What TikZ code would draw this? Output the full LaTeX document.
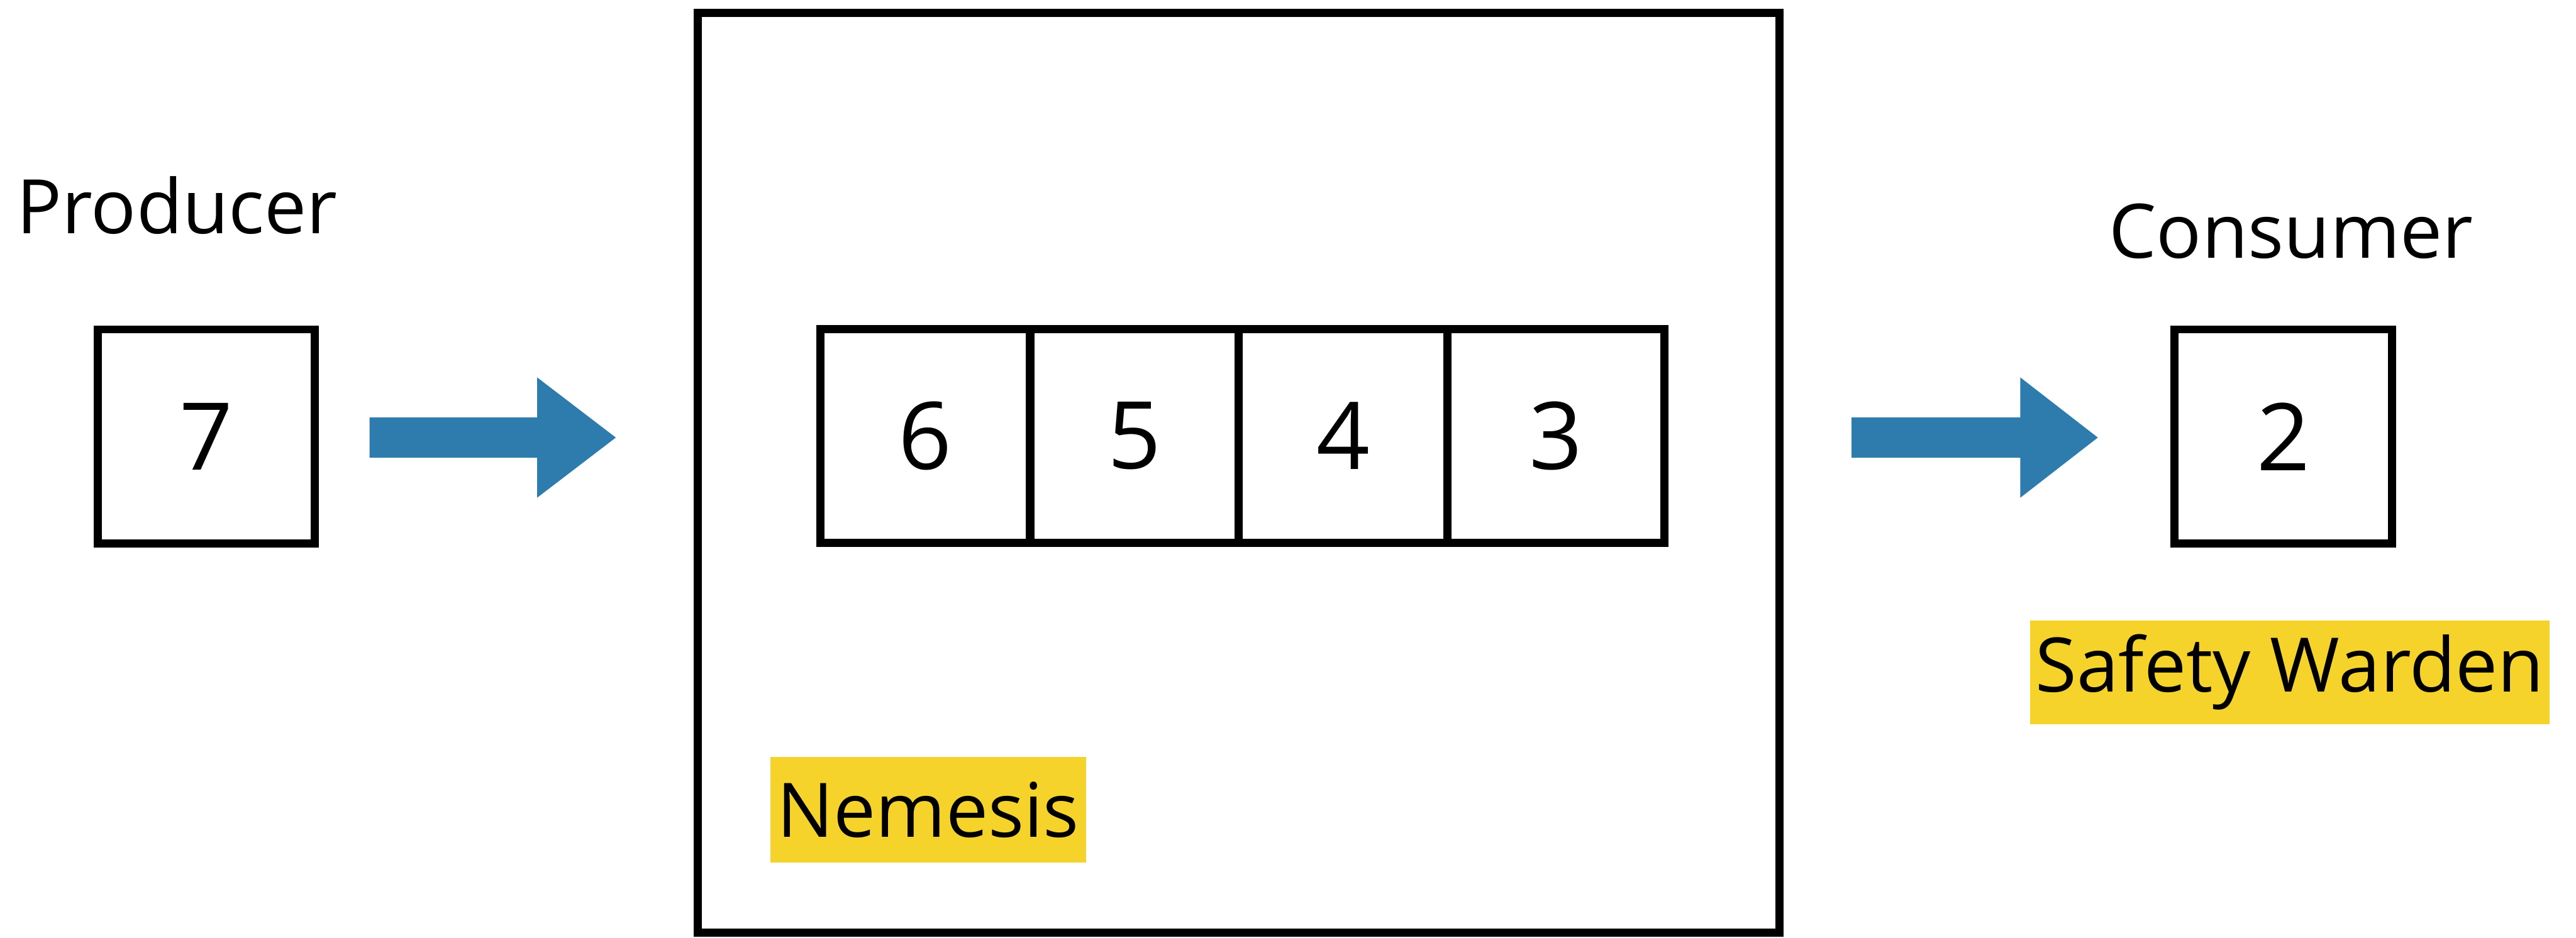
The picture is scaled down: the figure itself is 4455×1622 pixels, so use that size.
\documentclass[tikz,border=0pt]{standalone}
\usepackage{fontspec}
\setmainfont{Open Sans}
\definecolor{arrowblue}{HTML}{2E7BAE}
\definecolor{hlyellow}{HTML}{F5D32B}
\begin{document}
\begin{tikzpicture}[x=0.01cm,y=-0.01cm,
  cell/.style={draw=black,line width=4pt,minimum height=3.7cm,inner sep=0pt,font=\fontsize{46}{50}\selectfont},
  lbl/.style={font=\fontsize{37}{44}\selectfont,inner sep=0pt},
  hl/.style={fill=hlyellow,font=\fontsize{37}{44}\selectfont,inner sep=0pt},
  bigarrow/.style={fill=arrowblue,draw=none}]
\useasboundingbox (0,0) rectangle (4455,1622);
\fill[white] (0,0) rectangle (4455,1622);
% producer
\node[lbl,anchor=base west] (prodlbl) at (28,404) {Producer};
\node[cell,minimum width=3.75cm] (p7) at (357,755) {7};
% arrow 1
\fill[bigarrow] (639,722) -- (929,722) -- (929,653) -- (1065,757) -- (929,861) -- (929,792) -- (639,792) -- cycle;
% nemesis box
\node[draw=black,line width=4pt,minimum width=18.7cm,minimum height=15.9cm,inner sep=0pt] (nem) at (2142,818) {};
\node[cell,minimum width=3.63cm] (q6) at (1600,754) {6};
\node[cell,minimum width=3.61cm] (q5) at (1962,754) {5};
\node[cell,minimum width=3.61cm] (q4) at (2323,754) {4};
\node[cell,minimum width=3.75cm] (q3) at (2691,754) {3};
\node[hl,minimum width=5.46cm,minimum height=1.82cm] (nemlbl) at (1605,1401) {Nemesis};
% arrow 2
\fill[bigarrow] (3202,722) -- (3494,722) -- (3494,653) -- (3628,757) -- (3494,861) -- (3494,792) -- (3202,792) -- cycle;
% consumer
\node[lbl,anchor=base] (conslbl) at (3962,446) {Consumer};
\node[cell,minimum width=3.76cm] (c2) at (3949,755) {2};
\node[hl,minimum width=8.98cm,minimum height=1.79cm] (swlbl) at (3960,1163) {Safety Warden};
\end{tikzpicture}
\end{document}
